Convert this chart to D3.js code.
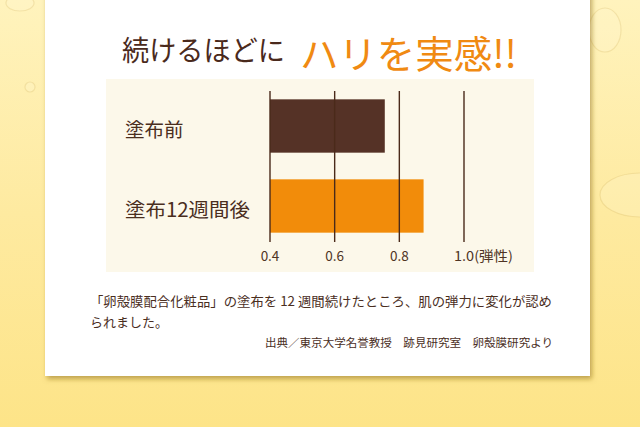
<!DOCTYPE html>
<html><head><meta charset="utf-8">
<script src="https://cdn.jsdelivr.net/npm/d3@7/dist/d3.min.js"></script>
<style>
html,body{margin:0;padding:0;background:#fde78f;overflow:hidden}
svg{display:block}
text{font-family:"Noto Sans CJK JP","Noto Sans",sans-serif}
</style></head>
<body>
<script>
// ---- data ----
const categories = ["塗布前", "塗布12週間後"];
const values = [0.755, 0.875];
const tickValues = [0.4, 0.6, 0.8, 1.0];
const tickLabels = ["0.4", "0.6", "0.8", "1.0(弾性)"];
const titleMain = "続けるほどに";
const titleAccent = "ハリを実感!!";
const captionLines = ["「卵殻膜配合化粧品」の塗布を 12 週間続けたところ、肌の弾力に変化が認め", "られました。"];
const sourceText = "出典／東京大学名誉教授　跡見研究室　卵殻膜研究より";
const barColors = ["#553226", "#f28c0a"];

const W = 640, H = 427;
const svg = d3.select("body").append("svg").attr("width", W).attr("height", H);
const defs = svg.append("defs");

// background gradient
const bg = defs.append("linearGradient").attr("id", "bg").attr("x1", 0).attr("y1", 0).attr("x2", 0).attr("y2", 1);
bg.append("stop").attr("offset", "0").attr("stop-color", "#fff3bd");
bg.append("stop").attr("offset", "0.5").attr("stop-color", "#feeaa0");
bg.append("stop").attr("offset", "1").attr("stop-color", "#fde488");
svg.append("rect").attr("width", W).attr("height", H).attr("fill", "url(#bg)");

// faint bubbles
const bubbles = [[605, 30, 16, 22], [640, 195, 40, 22], [20, 3, 14, 8], [30, 87, 5, 5], [565, 160, 25, 15]];
svg.append("g").selectAll("ellipse").data(bubbles).join("ellipse")
  .attr("cx", d => d[0]).attr("cy", d => d[1]).attr("rx", d => d[2]).attr("ry", d => d[3])
  .attr("fill", "rgba(255,250,220,0.2)").attr("stroke", "rgba(200,170,80,0.22)").attr("stroke-width", 1.2);

// card with shadow
const f = defs.append("filter").attr("id", "sh").attr("x", "-10%").attr("y", "-10%").attr("width", "120%").attr("height", "120%");
f.append("feDropShadow").attr("dx", 2).attr("dy", 3).attr("stdDeviation", 2.5).attr("flood-color", "#8a6a10").attr("flood-opacity", 0.55);
svg.append("rect").attr("x", 45).attr("y", -10).attr("width", 545).attr("height", 386).attr("fill", "#ffffff").attr("filter", "url(#sh)");

// title
svg.append("text").attr("x", 122).attr("y", 49).attr("dominant-baseline", "central")
  .attr("font-size", 28).attr("fill", "#4a2a1c").attr("textLength", 163).attr("lengthAdjust", "spacingAndGlyphs")
  .text(titleMain);
svg.append("text").attr("x", 300).attr("y", 51).attr("dominant-baseline", "central")
  .attr("font-size", 38).attr("fill", "#f08a12").attr("textLength", 217).attr("lengthAdjust", "spacingAndGlyphs")
  .text(titleAccent);

// chart panel
svg.append("rect").attr("x", 106).attr("y", 79).attr("width", 428).attr("height", 193).attr("fill", "#fcf8ea");

const x = d3.scaleLinear().domain([0.4, 1.0]).range([270, 464]);
const y = d3.scaleBand().domain(categories).range([86, 246]).paddingInner(1 / 3).paddingOuter(1 / 6);

// bars
svg.append("g").selectAll("rect").data(values).join("rect")
  .attr("x", x(0.4)).attr("y", (d, i) => y(categories[i]))
  .attr("width", d => x(d) - x(0.4)).attr("height", y.bandwidth())
  .attr("fill", (d, i) => barColors[i]);

// grid lines (on top)
svg.append("g").selectAll("line").data(tickValues).join("line")
  .attr("x1", d => x(d)).attr("x2", d => x(d)).attr("y1", 91).attr("y2", 242)
  .attr("stroke", "#4a2a1a").attr("stroke-width", 1.4);

// tick labels
const last = tickValues.length - 1;
svg.append("g").selectAll("text").data(tickValues).join("text")
  .attr("x", (d, i) => i === last ? x(d) - 10 : x(d))
  .attr("y", 255).attr("dominant-baseline", "central")
  .attr("text-anchor", (d, i) => i === last ? "start" : "middle")
  .attr("font-size", 13.5).attr("fill", "#4f3424")
  .each(function (d, i) { if (i === last) d3.select(this).attr("textLength", 59).attr("lengthAdjust", "spacingAndGlyphs"); })
  .text((d, i) => tickLabels[i]);

// category labels
svg.append("g").selectAll("text").data(categories).join("text")
  .attr("x", 125).attr("y", d => y(d) + y.bandwidth() / 2 + 2).attr("dominant-baseline", "central")
  .attr("font-size", 19.5).attr("fill", "#4a2e1e")
  .each(function (d, i) { if (i === 1) d3.select(this).attr("textLength", 125).attr("lengthAdjust", "spacingAndGlyphs"); })
  .text(d => d);

// caption
svg.append("g").selectAll("text").data(captionLines).join("text")
  .attr("x", 90).attr("y", (d, i) => 300 + i * 21).attr("dominant-baseline", "central")
  .attr("font-size", 13).attr("fill", "#4a2e1e")
  .each(function (d, i) { if (i === 0) d3.select(this).attr("textLength", 462).attr("lengthAdjust", "spacingAndGlyphs"); })
  .text(d => d);

svg.append("text").attr("x", 553).attr("y", 342).attr("dominant-baseline", "central").attr("text-anchor", "end")
  .attr("font-size", 11).attr("fill", "#4a2e1e").attr("textLength", 288).attr("lengthAdjust", "spacingAndGlyphs")
  .text(sourceText);
</script>
</body></html>
